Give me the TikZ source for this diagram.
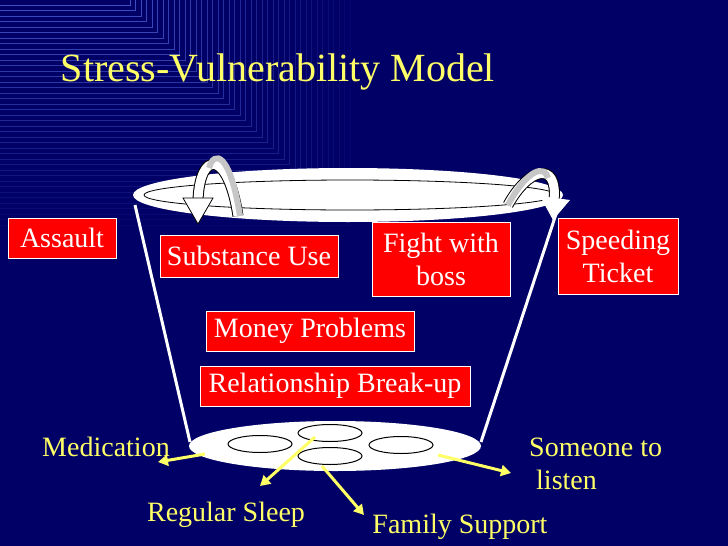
\documentclass[tikz,border=0pt]{standalone}
\usepackage{fontspec}
\setmainfont{Liberation Serif}
\usetikzlibrary{arrows.meta, positioning, shapes.geometric}
\definecolor{navy}{RGB}{0,0,102}
\definecolor{stripe}{RGB}{90,110,230}
\definecolor{sun}{RGB}{255,255,102}
\tikzset{
  stressbox/.style={draw=white, thick, fill=red, text=white, font=\fontsize{28}{33}\selectfont, inner sep=2pt, align=center},
  copelabel/.style={text=sun, font=\fontsize{28}{33}\selectfont, inner sep=0pt},
  copearrow/.style={sun, line width=3pt, -{Triangle[length=10pt, width=11pt]}},
  cupring/.style={draw=black, line width=1pt, ellipse, minimum width=64, minimum height=17}
}
\begin{document}
\begin{tikzpicture}[x=1pt, y=-1pt]

    % Background
    \fill[navy] (0,0) rectangle (728,546);
    \useasboundingbox (0,0) rectangle (728,546);
    \foreach \i in {0,...,40} {
        \draw[stripe, opacity={0.7-0.016*\i}, line width=0.6pt] (0,{5+\i*5.5}) -- ({130+\i*5.5},{5+\i*5.5}) -- ({130+\i*5.5},0);
    }

    % Title
    \node[text=sun, font=\fontsize{40}{44}\selectfont] (title) at (278,72) {Stress-Vulnerability Model};

    % Bucket
    \draw[white, line width=3pt] (135,205) -- (190,442);
    \draw[white, line width=3pt] (559,205) -- (481,442);
    \fill[white] (348,195) ellipse [x radius=215, y radius=27];
    \draw[black, line width=0.8pt] (350,195) ellipse [x radius=206, y radius=15];
    \fill[white] (335,446) ellipse [x radius=146, y radius=25];
    \node[cupring] (e1) at (260,444) {};
    \node[cupring] (e2) at (330,433) {};
    \node[cupring] (e3) at (330,456) {};
    \node[cupring] (e4) at (401,445) {};

    % Overflow arrows
    \draw[black, line width=11pt] (238,216) .. controls (228,150) and (200,150) .. (198,200);
    \draw[white, line width=9pt] (238,216) .. controls (228,150) and (200,150) .. (198,200);
    \draw[gray!45, line width=6pt] (240,216) .. controls (230,152) and (214,150) .. (209,168);
    \draw[black, line width=0.8pt, fill=white] (183,198) -- (213,198) -- (198,224) -- cycle;
    \draw[black, line width=11pt] (508,205) .. controls (528,168) and (558,160) .. (554,200);
    \draw[white, line width=9pt] (508,205) .. controls (528,168) and (558,160) .. (554,200);
    \draw[gray!45, line width=6pt] (508,205) .. controls (528,168) and (545,165) .. (548,178);
    \fill[white] (540,196) -- (570,200) -- (553,220) -- cycle;

    % Stressors
    \node[stressbox, minimum width=108, minimum height=40] (assault) at (62,238) {Assault};
    \node[stressbox, minimum width=178, minimum height=42] (substance) at (249,256) {Substance Use};
    \node[stressbox, minimum width=138, minimum height=74] (fight) at (441,259) {Fight with\\boss};
    \node[stressbox, minimum width=120, minimum height=76] (speeding) at (618,256) {Speeding\\Ticket};
    \node[stressbox, minimum width=208, minimum height=40] (money) at (310,331) {Money Problems};
    \node[stressbox, minimum width=270, minimum height=40] (breakup) at (335,386) {Relationship Break-up};

    % Coping
    \node[copelabel] (medication) at (106,447) {Medication};
    \node[copelabel] (sleep) at (226,515) {Regular Sleep};
    \node[copelabel] (family) at (460,527) {Family Support};
    \node[copelabel, align=left, anchor=west] (listen) at (529,464) {Someone to\\\ listen};
    \coordinate (m0) at (205,454);
    \coordinate (s0) at (315,437);
    \coordinate (f0) at (322,466);
    \coordinate (l0) at (438,455);
    \draw[copearrow] (m0) -- (158,462);
    \draw[copearrow] (s0) -- (260,486);
    \draw[copearrow] (f0) -- (364,515);
    \draw[copearrow] (l0) -- (511,473);

\end{tikzpicture}
\end{document}
